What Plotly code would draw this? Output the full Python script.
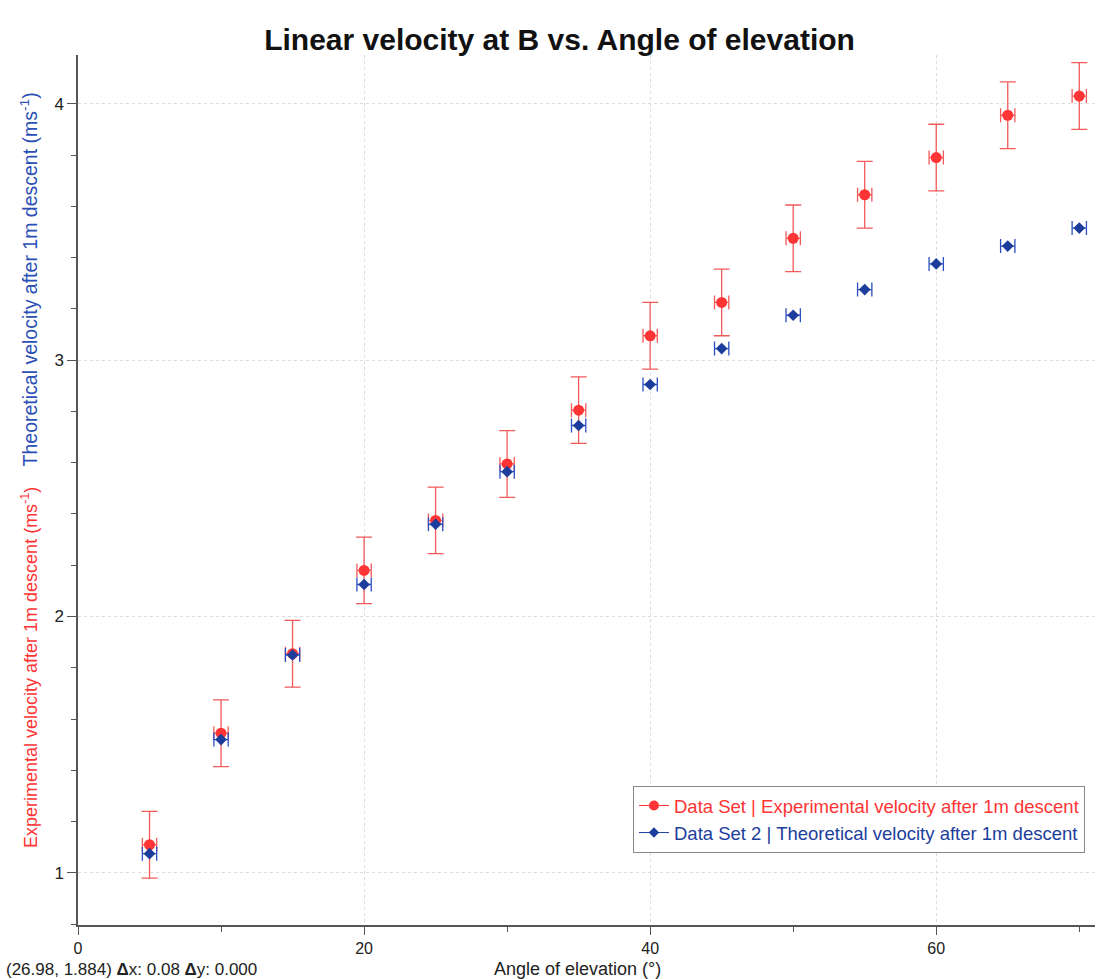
import plotly.graph_objects as go

angles = [5, 10, 15, 20, 25, 30, 35, 40, 45, 50, 55, 60, 65, 70]
exp_velocity = [1.11, 1.545, 1.855, 2.18, 2.375, 2.595, 2.805, 3.095, 3.225, 3.475, 3.645, 3.79, 3.955, 4.03]
theo_velocity = [1.075, 1.52, 1.85, 2.125, 2.36, 2.565, 2.745, 2.905, 3.045, 3.175, 3.275, 3.375, 3.445, 3.515]
exp_err_y = [0.13] * 14
angle_err = [0.5] * 14

RED = "#ff3535"
RED_ERR = "#f25a5a"
BLUE = "#1c3d9c"

fig = go.Figure()
fig.add_trace(go.Scatter(
    x=angles, y=exp_velocity, mode="markers", showlegend=False,
    marker=dict(symbol="circle", size=11, color=RED),
    error_y=dict(type="data", array=exp_err_y, color=RED_ERR, thickness=1.3, width=8),
    error_x=dict(type="data", array=angle_err, color=RED_ERR, thickness=1.3, width=7),
))
fig.add_trace(go.Scatter(
    x=angles, y=theo_velocity, mode="markers", showlegend=False,
    marker=dict(symbol="diamond", size=9, color=BLUE),
    error_x=dict(type="data", array=angle_err, color="#2a4fc0", thickness=1.3, width=7),
))
fig.add_trace(go.Scatter(
    x=[None], y=[None], mode="lines+markers",
    name="<span style='color:#ff3535'>Data Set | Experimental velocity after 1m descent</span>",
    line=dict(color=RED, width=1), marker=dict(symbol="circle", size=10, color=RED),
))
fig.add_trace(go.Scatter(
    x=[None], y=[None], mode="lines+markers",
    name="<span style='color:#1c3d9c'>Data Set 2 | Theoretical velocity after 1m descent</span>",
    line=dict(color=BLUE, width=1), marker=dict(symbol="diamond", size=8, color=BLUE),
))

fig.update_layout(
    width=1114, height=979,
    paper_bgcolor="white", plot_bgcolor="white",
    margin=dict(l=78, r=19, t=55, b=54),
    font=dict(family="Liberation Sans, Arial", size=17, color="#222"),
    title=dict(text="<b>Linear velocity at B vs. Angle of elevation</b>",
               x=0.4735, xref="paper", xanchor="center", y=0.960, yanchor="middle",
               font=dict(size=30, color="#111")),
    showlegend=True,
    legend=dict(x=0.5457, y=0.1598, xanchor="left", yanchor="top",
                bgcolor="white", bordercolor="#888", borderwidth=1,
                font=dict(size=18.5), itemwidth=30, tracegroupgap=2),
    xaxis=dict(range=[0, 71.1], tickmode="linear", tick0=0, dtick=20,
               showline=True, linecolor="#555", linewidth=1.5,
               ticks="outside", ticklen=8, tickcolor="#555",
               minor=dict(ticks="outside", dtick=10, ticklen=5, tickcolor="#555", showgrid=False),
               showgrid=True, gridcolor="#dcdcdc", griddash="dot", zeroline=False,
               tickfont=dict(size=16, color="#222")),
    yaxis=dict(range=[0.797, 4.19], tickmode="linear", tick0=1, dtick=1,
               showline=True, linecolor="#555", linewidth=1.5,
               ticks="outside", ticklen=9, tickcolor="#555",
               minor=dict(ticks="outside", dtick=0.2, ticklen=5, tickcolor="#555", showgrid=False),
               showgrid=True, gridcolor="#dcdcdc", griddash="dot", zeroline=False,
               tickfont=dict(size=17, color="#222")),
    annotations=[
        dict(text="Experimental velocity after 1m descent (ms<sup>-1</sup>)", textangle=-90,
             xref="paper", yref="paper", x=0, y=0.2954, xanchor="center", yanchor="middle",
             xshift=-49, showarrow=False, font=dict(size=18, color=RED)),
        dict(text="Theoretical velocity after 1m descent (ms<sup>-1</sup>)", textangle=-90,
             xref="paper", yref="paper", x=0, y=0.742, xanchor="center", yanchor="middle",
             xshift=-49, showarrow=False, font=dict(size=19.5, color="#2a4fb5")),
        dict(text="Angle of elevation (°)", xref="paper", yref="paper", x=0.491, y=0,
             xanchor="center", yanchor="middle", yshift=-44, showarrow=False,
             font=dict(size=18, color="#222")),
        dict(text="(26.98, 1.884) <b>Δ</b>x: 0.08 <b>Δ</b>y: 0.000", xref="paper", yref="paper",
             x=0, y=0, xanchor="left", yanchor="middle", xshift=-74, yshift=-44,
             showarrow=False, font=dict(size=17, color="#222")),
    ],
)

fig.write_html("out.html")
